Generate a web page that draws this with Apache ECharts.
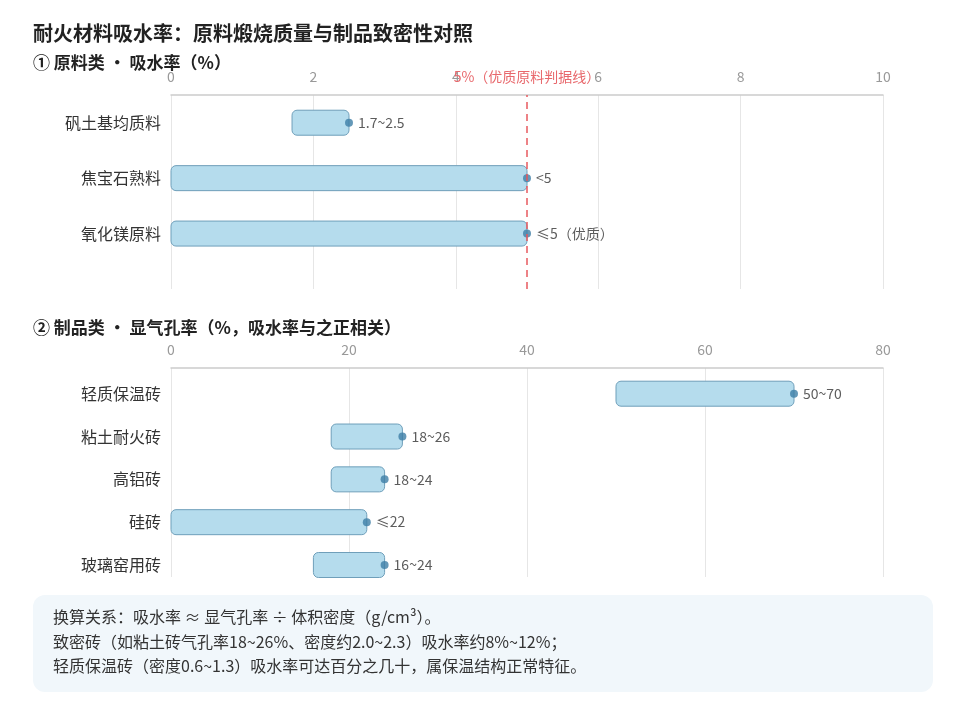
<!doctype html>
<html>

<head>
    <meta charset="utf-8">
    <title>耐火材料吸水率</title>
    <script src="https://cdn.jsdelivr.net/npm/echarts@6/dist/echarts.min.js"></script>
    <style>
        html, body { margin: 0; padding: 0; background: #fff; }
    </style>
</head>

<body>
    <div id="container" style="width:967px;height:716px;"></div>

    <script type="text/javascript">
        // 原料类：吸水率（%）
        var rawCats = ['矾土基均质料', '焦宝石熟料', '氧化镁原料'];
        var rawLow = [1.7, 0, 0];
        var rawHigh = [2.5, 5, 5];
        var rawLabels = ['1.7~2.5', '<5', '≤5（优质）'];
        var rawTicks = [0, 2, 4, 6, 8, 10];
        var rawLimit = 5;

        // 制品类：显气孔率（%）
        var prodCats = ['轻质保温砖', '粘土耐火砖', '高铝砖', '硅砖', '玻璃窑用砖'];
        var prodLow = [50, 18, 18, 0, 16];
        var prodHigh = [70, 26, 24, 22, 24];
        var prodLabels = ['50~70', '18~26', '18~24', '≤22', '16~24'];
        var prodTicks = [0, 20, 40, 60, 80];

        var noteLines = [
            '换算关系：吸水率 ≈ 显气孔率 ÷ 体积密度（g/cm³）。',
            '致密砖（如粘土砖气孔率18~26%、密度约2.0~2.3）吸水率约8%~12%；',
            '轻质保温砖（密度0.6~1.3）吸水率可达百分之几十，属保温结构正常特征。'
        ];

        var FONT = '"Noto Sans CJK SC", "Noto Sans", sans-serif';

        function rangeData(low, high) {
            return low.map(function (v, i) { return [v, high[i], i]; });
        }
        function endData(high) {
            return high.map(function (v, i) { return [v, i]; });
        }

        // 区间条：从下限画到上限
        function renderRange(params, api) {
            var a = api.coord([api.value(0), api.value(2)]);
            var b = api.coord([api.value(1), api.value(2)]);
            var h = 25;
            return {
                type: 'rect',
                shape: { x: a[0], y: a[1] - h / 2, width: b[0] - a[0], height: h, r: 5 },
                style: { fill: '#b5dced', stroke: '#6f9fba', lineWidth: 1 }
            };
        }

        function xAxisOf(idx, ticks) {
            return {
                gridIndex: idx,
                type: 'value',
                position: 'top',
                min: ticks[0],
                max: ticks[ticks.length - 1],
                interval: ticks[1] - ticks[0],
                axisLine: { show: true, onZero: false, lineStyle: { color: '#cccccc', width: 1.5 } },
                axisTick: { show: false },
                axisLabel: { color: '#999', fontSize: 14, margin: 11, fontFamily: FONT },
                splitLine: { show: true, lineStyle: { color: '#e6e6e6' } }
            };
        }

        function yAxisOf(idx, cats, min, max) {
            return {
                gridIndex: idx,
                type: 'value',
                inverse: true,
                min: min,
                max: max,
                axisLine: { show: false, onZero: false },
                axisTick: { show: false },
                splitLine: { show: false },
                axisLabel: {
                    customValues: cats.map(function (c, i) { return i; }),
                    formatter: function (v) { return cats[Math.round(v)] || ''; },
                    color: '#333',
                    fontSize: 16,
                    margin: 10,
                    fontFamily: FONT
                }
            };
        }

        function dotSeries(idx, high, labels, extra) {
            var s = {
                type: 'scatter',
                xAxisIndex: idx,
                yAxisIndex: idx,
                symbolSize: 8,
                itemStyle: { color: '#3d7ea6' },
                label: {
                    show: true,
                    position: 'right',
                    distance: 5,
                    color: '#333',
                    fontSize: 14,
                    fontFamily: FONT,
                    formatter: function (p) { return labels[p.dataIndex]; }
                },
                data: endData(high),
                z: 3
            };
            if (extra) s.markLine = extra;
            return s;
        }

        var option = {
            animation: false,
            textStyle: { fontFamily: FONT },
            title: [{
                text: '耐火材料吸水率：原料煅烧质量与制品致密性对照',
                left: 33, top: 23, padding: 0,
                textStyle: { fontSize: 20, fontWeight: 'bold', color: '#222', fontFamily: FONT }
            }, {
                text: '① 原料类 · 吸水率（%）',
                left: 33, top: 54, padding: 0,
                textStyle: { fontSize: 17, fontWeight: 'bold', color: '#222', fontFamily: FONT }
            }, {
                text: '② 制品类 · 显气孔率（%，吸水率与之正相关）',
                left: 33, top: 319, padding: 0,
                textStyle: { fontSize: 17, fontWeight: 'bold', color: '#222', fontFamily: FONT }
            }],
            grid: [
                { left: 171, right: 84, top: 95, height: 194 },
                { left: 171, right: 84, top: 368, height: 209 }
            ],
            xAxis: [xAxisOf(0, rawTicks), xAxisOf(1, prodTicks)],
            yAxis: [yAxisOf(0, rawCats, -0.5, 3), yAxisOf(1, prodCats, -0.6, 4.28)],
            series: [{
                type: 'custom',
                xAxisIndex: 0,
                yAxisIndex: 0,
                renderItem: renderRange,
                encode: { x: [0, 1], y: 2 },
                data: rangeData(rawLow, rawHigh)
            }, dotSeries(0, rawHigh, rawLabels, {
                silent: true,
                symbol: 'none',
                lineStyle: { color: '#e85a5f', type: [7, 5], width: 1.5 },
                label: {
                    show: true,
                    position: 'end',
                    distance: 11,
                    formatter: rawLimit + '%（优质原料判据线）',
                    color: '#e8686c',
                    fontSize: 14,
                    fontFamily: FONT
                },
                data: [[{ coord: [rawLimit, 3] }, { coord: [rawLimit, -0.5] }]]
            }), {
                type: 'custom',
                xAxisIndex: 1,
                yAxisIndex: 1,
                renderItem: renderRange,
                encode: { x: [0, 1], y: 2 },
                data: rangeData(prodLow, prodHigh)
            }, dotSeries(1, prodHigh, prodLabels)],
            graphic: [{
                type: 'rect',
                left: 33, top: 595,
                shape: { width: 900, height: 97, r: 12 },
                style: { fill: '#f1f7fb' },
                z: -1
            }].concat(noteLines.map(function (t, i) {
                return {
                    type: 'text',
                    x: 53,
                    y: 617 + i * 24.5,
                    style: {
                        text: t,
                        fill: '#333',
                        font: '16px ' + FONT,
                        textVerticalAlign: 'middle'
                    }
                };
            }))
        };

        var myChart = echarts.init(document.getElementById('container'));
        myChart.setOption(option);
    </script>
</body>

</html>
